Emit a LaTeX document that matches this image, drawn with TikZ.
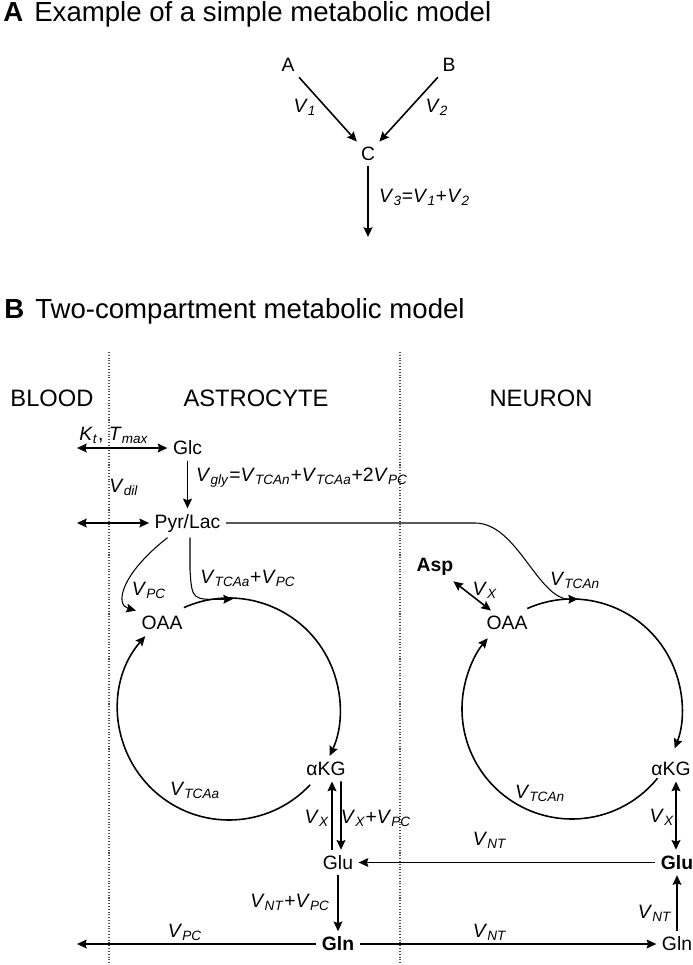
\documentclass[tikz,border=0pt]{standalone}
\usepackage{fontspec}
\setmainfont{Liberation Sans}
\usetikzlibrary{arrows.meta, positioning}
\newcommand{\fl}[1]{\textit{V}\textsubscript{\textit{#1}}}

\begin{document}
\begin{tikzpicture}[
    >={Stealth[length=5.5pt,width=5pt,inset=0.8pt]},
    arrow/.style={line width=0.9pt,->},
    thinarrow/.style={line width=0.6pt,->},
    dbl/.style={line width=0.9pt,<->},
    met/.style={inner sep=3pt, font=\fontsize{11}{13}\selectfont},
    metb/.style={met, font=\fontsize{11}{13}\selectfont\bfseries},
    flux/.style={inner sep=1pt, font=\fontsize{11}{13}\selectfont},
    region/.style={inner sep=1pt, font=\fontsize{13.5}{16}\selectfont},
    ttl/.style={anchor=base west, inner sep=0pt, font=\fontsize{15.7}{18}\selectfont},
    border/.style={densely dotted, line width=0.6pt, gray!60!black}
]
\useasboundingbox (0,0) rectangle (13.86,-19.3);
\node [ttl] (titleA) at (0.06,-0.42) {\textbf{A}\hspace{0.4em}Example of a simple metabolic model};
\node [met] (a) at (5.76,-1.3) {A};
\node [met] (b) at (8.98,-1.3) {B};
\node [met] (c) at (7.36,-3.08) {C};
\coordinate (cout) at (7.36,-4.74);
\draw [arrow] (a) -- (c);
\draw [arrow] (b) -- (c);
\draw [arrow] (c) -- (cout);
\node [flux] (v1) at (6.1,-2.14) {\fl{1}};
\node [flux] (v2) at (8.74,-2.14) {\fl{2}};
\node [flux, anchor=west] (v3) at (7.54,-3.94) {\fl{3}=\fl{1}+\fl{2}};
\node [ttl] (titleB) at (0.08,-6.36) {\textbf{B}\hspace{0.4em}Two-compartment metabolic model};
\draw [border] (2.18,-7.04) -- (2.18,-19.3);
\draw [border] (8.0,-7.04) -- (8.0,-19.3);
\node [region] (blood) at (1.04,-7.97) {BLOOD};
\node [region] (astro) at (5.12,-7.97) {ASTROCYTE};
\node [region] (neuron) at (10.82,-7.97) {NEURON};
\node [met] (glc) at (3.75,-8.96) {Glc};
\node [met] (pyr) at (3.75,-10.46) {Pyr/Lac};
\node [met] (oaaA) at (3.24,-12.46) {OAA};
\node [met] (akgA) at (6.52,-15.38) {αKG};
\node [met] (gluA) at (6.76,-17.25) {Glu};
\node [metb] (glnA) at (6.76,-18.88) {Gln};
\node [metb] (asp) at (8.7,-11.34) {Asp};
\node [met] (oaaN) at (10.14,-12.46) {OAA};
\node [met] (akgN) at (13.42,-15.38) {αKG};
\node [metb] (gluN) at (13.54,-17.25) {Glu};
\node [met] (glnN) at (13.54,-18.88) {Gln};
\coordinate (bloodGlc) at (1.54,-8.96);
\coordinate (bloodPyr) at (1.54,-10.46);
\coordinate (bloodGln) at (1.54,-18.88);
\coordinate (cycA) at (4.58,-14.18);
\coordinate (cycN) at (11.44,-14.18);
\node [flux] (ktmax) at (2.28,-8.7) {\textit{K}\textsubscript{\textit{t}}, \textit{T}\textsubscript{\textit{max}}};
\node [flux, anchor=west] (vgly) at (3.88,-9.56) {\fl{gly}=\fl{TCAn}+\fl{TCAa}+2\fl{PC}};
\node [flux] (vdil) at (2.48,-9.74) {\fl{dil}};
\node [flux] (vpcA) at (2.98,-11.8) {\fl{PC}};
\node [flux] (vtcaPC) at (4.96,-11.56) {\fl{TCAa}+\fl{PC}};
\node [flux] (vtcaA) at (3.9,-15.8) {\fl{TCAa}};
\node [flux] (vxA) at (6.34,-16.36) {\fl{X}};
\node [flux] (vxpc) at (7.52,-16.36) {\fl{X}+\fl{PC}};
\node [flux, anchor=east] (vntpc) at (6.64,-18.04) {\fl{NT}+\fl{PC}};
\node [flux] (vpcB) at (3.7,-18.64) {\fl{PC}};
\node [flux] (vntGln) at (9.8,-18.64) {\fl{NT}};
\node [flux] (vntGlu) at (9.8,-16.8) {\fl{NT}};
\node [flux] (vxAsp) at (9.7,-11.8) {\fl{X}};
\node [flux] (vtcaN) at (11.5,-11.6) {\fl{TCAn}};
\node [flux] (vtcaNc) at (10.8,-15.86) {\fl{TCAn}};
\node [flux] (vxN) at (13.24,-16.34) {\fl{X}};
\node [flux] (vntN) at (13.1,-18.26) {\fl{NT}};
\draw [dbl] (bloodGlc) -- (glc);
\draw [arrow] (glc) -- (pyr);
\draw [dbl] (bloodPyr) -- (pyr);
\draw [thinarrow] (pyr.east) -- (9.5,-10.46) .. controls (10.35,-10.46) and (10.76,-12.0) .. (11.56,-11.98);
\draw [thinarrow] ([xshift=0.05cm]pyr.south) -- (3.8,-11.4) .. controls (3.84,-12.0) .. (4.66,-11.98);
\draw [thinarrow] ([xshift=-0.4cm]pyr.south) .. controls (2.4,-11.5) and (2.3,-12.1) .. (oaaA.north west);
\draw [arrow] (cycA) ++(114:2.22) arc [start angle=114, end angle=-25, radius=2.22];
\draw [arrow] (cycA) ++(-43:2.22) arc [start angle=-43, end angle=-221, radius=2.22];
\draw [arrow] (cycN) ++(114:2.2) arc [start angle=114, end angle=-21, radius=2.2];
\draw [arrow] (cycN) ++(-39:2.2) arc [start angle=-39, end angle=-220, radius=2.2];
\draw [arrow] ([xshift=-0.12cm]gluA.north) -- ([xshift=0.12cm]akgA.south);
\draw [arrow] ([xshift=0.3cm]akgA.south) -- ([xshift=0.06cm]gluA.north);
\draw [arrow] (gluA) -- (glnA);
\draw [dbl] ([xshift=0.1cm]akgN.south) -- ([xshift=-0.02cm]gluN.north);
\draw [thinarrow] (gluN) -- (gluA);
\draw [thinarrow] (glnA) -- (bloodGln);
\draw [thinarrow] (glnA) -- (glnN);
\draw [thinarrow] (glnN) -- (gluN);
\draw [dbl] (asp) -- (oaaN);
\end{tikzpicture}
\end{document}
